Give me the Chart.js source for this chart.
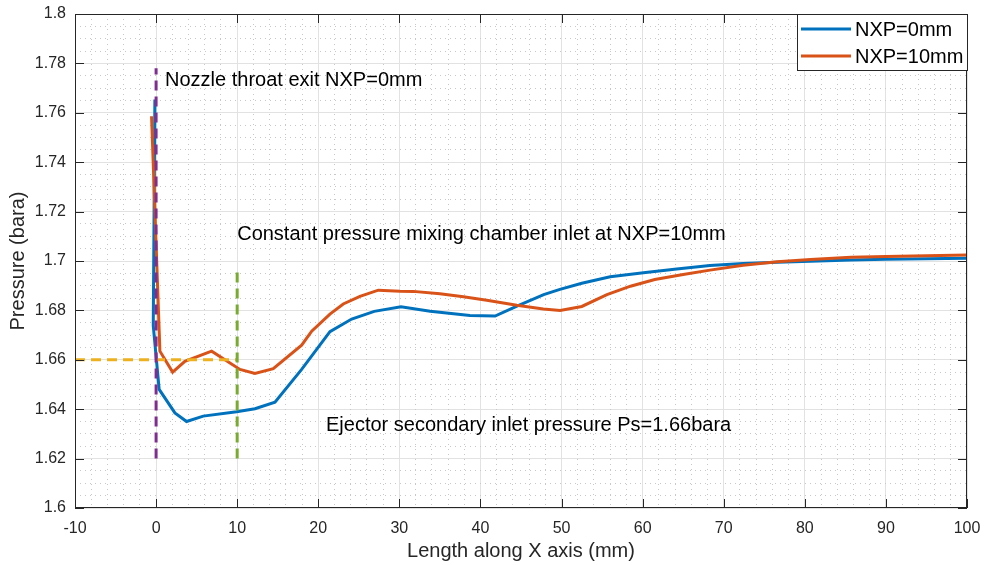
<!DOCTYPE html>
<html lang="en">
<head>
<meta charset="UTF-8">
<title>Pressure along X axis</title>
<script src="https://cdn.jsdelivr.net/npm/chart.js"></script>
<style>
  body { margin: 0; background: #fff; }
  #wrap { width: 985px; height: 565px; }
</style>
</head>
<body>
<div id="wrap"><canvas id="myChart" width="985" height="565"></canvas></div>
<script>
// static pressure along the ejector axis, two nozzle positions
const nxp0X = [-0.15, -0.35, 0.38, 2.32, 3.76, 5.81, 9.93, 12.19, 14.66, 17.95, 21.44, 24.12, 26.9, 30.2, 33.8, 38.7, 41.8, 44.5, 47.8, 49.8, 52.5, 56.0, 60.1, 64.2, 68.3, 72.4, 76.6, 80.7, 85.7, 90, 100];
const nxp0P = [1.7654, 1.6738, 1.6480, 1.6385, 1.6350, 1.6372, 1.6390, 1.6402, 1.6428, 1.6561, 1.6714, 1.6765, 1.6796, 1.6815, 1.6797, 1.6779, 1.6777, 1.6817, 1.6864, 1.6885, 1.6910, 1.6936, 1.6952, 1.6968, 1.6982, 1.6990, 1.6995, 1.6999, 1.7004, 1.7007, 1.7011];

const nxp10X = [-0.56, 0.47, 2.04, 3.55, 6.85, 10.34, 12.19, 14.45, 17.95, 19.19, 21.44, 23.08, 25.14, 27.4, 30.08, 31.72, 35.0, 37.9, 40.78, 44.48, 47.76, 49.82, 52.5, 55.6, 58.5, 61.5, 65.0, 68.3, 72.4, 76.6, 80.7, 85.7, 90, 100];
const nxp10P = [1.7586, 1.6635, 1.6550, 1.6594, 1.6635, 1.6561, 1.6545, 1.6564, 1.6659, 1.6716, 1.6785, 1.6826, 1.6857, 1.6882, 1.6878, 1.6877, 1.6867, 1.6855, 1.6841, 1.6821, 1.6806, 1.6800, 1.6816, 1.6864, 1.6898, 1.6925, 1.6945, 1.6963, 1.6983, 1.6997, 1.7006, 1.7015, 1.7018, 1.7024];

// reference lines
const throatX = [0, 0];
const throatP = [1.62, 1.778];
const mixInletX = [10, 10];
const mixInletP = [1.62, 1.697];
const psX = [-10, 10];
const psP = [1.66, 1.66];

// axis ticks
const xTicks = [-10, 0, 10, 20, 30, 40, 50, 60, 70, 80, 90, 100];
const xTickLabels = ['-10', '0', '10', '20', '30', '40', '50', '60', '70', '80', '90', '100'];
const yTicks = [1.6, 1.62, 1.64, 1.66, 1.68, 1.7, 1.72, 1.74, 1.76, 1.78, 1.8];
const yTickLabels = ['1.6', '1.62', '1.64', '1.66', '1.68', '1.7', '1.72', '1.74', '1.76', '1.78', '1.8'];

const notes = [
    { text: 'Nozzle throat exit NXP=0mm', x: 1.1, y: 1.7738 },
    { text: 'Constant pressure mixing chamber inlet at NXP=10mm', x: 10.0, y: 1.7114 },
    { text: 'Ejector secondary inlet pressure Ps=1.66bara', x: 20.95, y: 1.6342 }
];

const FONT = '"Liberation Sans", Arial, sans-serif';
const AXIS = '#262626';

function pts(xs, ys) {
    return xs.map((v, i) => ({ x: v, y: ys[i] }));
}

// no extra room for overhanging tick labels, the plot box is fixed
function noOverhang(s) {
    s.paddingLeft = s.paddingRight = s.paddingTop = s.paddingBottom = 0;
}

// box, inward tick marks, text notes and legend
const decorations = {
    id: 'decorations',
    afterDatasetsDraw(chart) {
        const { ctx, chartArea: a, scales: { x, y } } = chart;
        ctx.save();

        ctx.strokeStyle = AXIS;
        ctx.lineWidth = 1;
        ctx.beginPath();
        xTicks.forEach(v => {
            const px = Math.round(x.getPixelForValue(v)) + 0.5;
            ctx.moveTo(px, a.bottom); ctx.lineTo(px, a.bottom - 9);
            ctx.moveTo(px, a.top); ctx.lineTo(px, a.top + 9);
        });
        yTicks.forEach(v => {
            const py = Math.round(y.getPixelForValue(v)) + 0.5;
            ctx.moveTo(a.left, py); ctx.lineTo(a.left + 9, py);
            ctx.moveTo(a.right, py); ctx.lineTo(a.right - 9, py);
        });
        ctx.stroke();
        ctx.strokeRect(a.left + 0.5, a.top + 0.5, a.right - a.left - 1, a.bottom - a.top - 1);

        const size = 20;
        ctx.font = size + 'px ' + FONT;
        ctx.fillStyle = '#000';
        ctx.textAlign = 'left';
        ctx.textBaseline = 'alphabetic';
        notes.forEach(n => {
            ctx.fillText(n.text, x.getPixelForValue(n.x), y.getPixelForValue(n.y) + size * 0.35);
        });

        // legend box in the top right corner
        const w = 171, h = 57;
        const lx = a.right - w + 1, ly = a.top;
        ctx.fillStyle = '#fff';
        ctx.fillRect(lx, ly, w, h);
        ctx.strokeStyle = AXIS;
        ctx.lineWidth = 1;
        ctx.strokeRect(lx + 0.5, ly + 0.5, w - 1, h - 1);
        chart.data.datasets.slice(0, 2).forEach((ds, i) => {
            const ry = ly + 15 + i * 27;
            ctx.strokeStyle = ds.borderColor;
            ctx.lineWidth = 3;
            ctx.beginPath();
            ctx.moveTo(lx + 4, ry);
            ctx.lineTo(lx + 54, ry);
            ctx.stroke();
            ctx.fillStyle = '#000';
            ctx.fillText(ds.label, lx + 58, ry + size * 0.35);
        });
        ctx.restore();
    }
};

const ctx = document.getElementById('myChart');

new Chart(ctx, {
    type: 'line',
    data: {
        datasets: [
            { label: 'NXP=0mm', data: pts(nxp0X, nxp0P), borderColor: '#0072BD', borderWidth: 3, order: 6 },
            { label: 'NXP=10mm', data: pts(nxp10X, nxp10P), borderColor: '#D95319', borderWidth: 3, order: 5 },
            { label: 'throat', data: pts(throatX, throatP), borderColor: '#7E2F8E', borderWidth: 3, borderDash: [10, 6], order: 3 },
            { label: 'mixing inlet', data: pts(mixInletX, mixInletP), borderColor: '#77AC30', borderWidth: 3, borderDash: [10, 6], order: 2 },
            { label: 'Ps', data: pts(psX, psP), borderColor: '#EDB120', borderWidth: 3, borderDash: [10, 6], order: 4 }
        ]
    },
    options: {
        responsive: false,
        animation: false,
        devicePixelRatio: 1,
        layout: { padding: { top: 14, right: 18, left: 0, bottom: 0 } },
        elements: { point: { radius: 0 }, line: { tension: 0, fill: false } },
        plugins: { legend: { display: false }, tooltip: { enabled: false } },
        scales: {
            x: {
                type: 'linear', position: 'bottom', min: -10, max: 100,
                afterBuildTicks: s => { s.ticks = xTicks.map(v => ({ value: v })); },
                afterFit: s => { s.height = 57; noOverhang(s); },
                ticks: {
                    autoSkip: false, maxRotation: 0, padding: 11, color: AXIS,
                    font: { family: FONT, size: 16 },
                    callback: (v, i) => xTickLabels[i]
                },
                grid: { color: '#e2e2e2', drawTicks: false },
                border: { display: false },
                title: {
                    display: true, text: 'Length along X axis (mm)', color: AXIS,
                    font: { family: FONT, size: 20 }, padding: { top: 0, bottom: 2 }
                }
            },
            y: {
                type: 'linear', position: 'left', min: 1.6, max: 1.8,
                afterBuildTicks: s => { s.ticks = yTicks.map(v => ({ value: v })); },
                afterFit: s => { s.width = 75; noOverhang(s); },
                ticks: {
                    autoSkip: false, padding: 9, color: AXIS,
                    font: { family: FONT, size: 16 },
                    callback: (v, i) => yTickLabels[i]
                },
                grid: { color: '#e2e2e2', drawTicks: false },
                border: { display: false },
                title: {
                    display: true, text: 'Pressure (bara)', color: AXIS,
                    font: { family: FONT, size: 20 }, padding: { top: 6, bottom: 0 }
                }
            },
            // dotted minor grid
            xMinor: {
                type: 'linear', axis: 'x', position: 'top', min: -10, max: 100,
                afterBuildTicks: s => {
                    const t = [];
                    for (let i = -5; i <= 50; i++) if (i % 5 !== 0) t.push({ value: i * 2 });
                    s.ticks = t;
                },
                afterFit: s => { s.height = 0; noOverhang(s); },
                ticks: { display: false },
                grid: { color: '#c8c8c8', drawTicks: false },
                border: { display: false, dash: [1, 4] }
            },
            yMinor: {
                type: 'linear', axis: 'y', position: 'right', min: 1.6, max: 1.8,
                afterBuildTicks: s => {
                    const t = [];
                    for (let i = 0; i <= 40; i++) if (i % 4 !== 0) t.push({ value: 1.6 + i * 0.005 });
                    s.ticks = t;
                },
                afterFit: s => { s.width = 0; noOverhang(s); },
                ticks: { display: false },
                grid: { color: '#c8c8c8', drawTicks: false },
                border: { display: false, dash: [1, 4] }
            }
        }
    },
    plugins: [decorations]
});
</script>
</body>
</html>
